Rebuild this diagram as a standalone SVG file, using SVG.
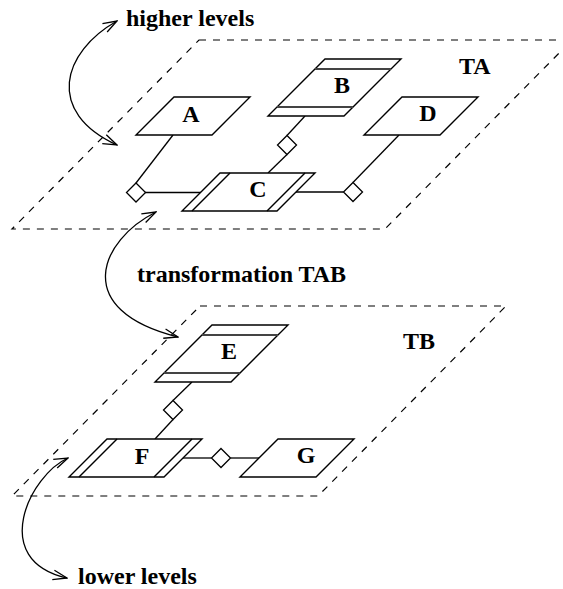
<svg xmlns="http://www.w3.org/2000/svg" width="563" height="589" viewBox="0 0 563 589">
<style>
.plane{fill:none;stroke:#000;stroke-width:1.2;stroke-dasharray:7 7}
.box{fill:#fff;stroke:#000;stroke-width:1.4;stroke-linejoin:miter}
.inner{fill:none;stroke:#000;stroke-width:1.4}
.stripe{fill:none;stroke:#444;stroke-width:2}
.conn{fill:none;stroke:#000;stroke-width:1.3}
.dia{fill:#fff;stroke:#000;stroke-width:1.3}
.arc{fill:none;stroke:#000;stroke-width:1.3;marker-start:url(#ah);marker-end:url(#ah)}
text{font-family:"Liberation Serif","Times New Roman",serif;font-weight:bold;font-size:24px;fill:#000}
.lbl{text-anchor:middle}
</style>
<defs>
<marker id="ah" viewBox="-15 -7 16 14" refX="0" refY="0" markerWidth="16" markerHeight="14" markerUnits="userSpaceOnUse" orient="auto-start-reverse">
<path d="M-14,-4.8 L0,0 L-14,4.8" fill="none" stroke="#000" stroke-width="1.3"/>
</marker>
</defs>
<rect width="563" height="589" fill="#fff"/>
<g id="planes">
<polygon id="planeTA" class="plane" points="199,40 572,40 385,229 12,229"/>
<polygon id="planeTB" class="plane" points="200,306 506,306 318,496 12,496"/>
<text x="459" y="74">TA</text>
<text x="403" y="349">TB</text>
</g>
<g id="connectors">
<polyline class="conn" points="173,135 136,183"/>
<line class="conn" x1="145" y1="192.5" x2="201" y2="192.5"/>
<polygon class="dia" points="136,183 145.5,192.5 136,202 126.5,192.5"/>
<line class="conn" x1="305" y1="116" x2="287" y2="135.5"/>
<line class="conn" x1="287" y1="154.5" x2="268" y2="173"/>
<polygon class="dia" points="287,135.5 296.5,145 287,154.5 277.5,145"/>
<line class="conn" x1="399" y1="135" x2="353" y2="182.5"/>
<line class="conn" x1="343.5" y1="192" x2="296" y2="192"/>
<polygon class="dia" points="353,182.5 362.5,192 353,201.5 343.5,192"/>
<line class="conn" x1="192" y1="382" x2="173" y2="400.5"/>
<line class="conn" x1="173" y1="419.5" x2="155" y2="439"/>
<polygon class="dia" points="173,400.5 182.5,410 173,419.5 163.5,410"/>
<line class="conn" x1="183" y1="458" x2="211.5" y2="458"/>
<line class="conn" x1="230.5" y1="458" x2="259" y2="458"/>
<polygon class="dia" points="221,448.5 230.5,458 221,467.5 211.5,458"/>
<path class="arc" d="M117,21 C62,52 45,112 117,145"/>
<path class="arc" d="M156,212 C100,240 70,310 178,337"/>
<path class="arc" d="M68,458 C30,475 -12,560 67,578"/>
</g>
<g id="A">
<polygon class="box" points="174,97 250,97 212,135 136,135"/>
<text class="lbl" x="191" y="122">A</text>
</g>
<g id="B">
<polygon class="box" points="325,59 401,59 344,116 268,116"/>
<line class="stripe" x1="315" y1="69" x2="391" y2="69"/>
<line class="stripe" x1="277" y1="107" x2="353" y2="107"/>
<text class="lbl" x="342" y="93">B</text>
</g>
<g id="C">
<polygon class="box" points="220,173 315,173 277,211 182,211"/>
<line class="inner" x1="230" y1="173" x2="192" y2="211"/>
<line class="inner" x1="305" y1="173" x2="267" y2="211"/>
<text class="lbl" x="258" y="197">C</text>
</g>
<g id="D">
<polygon class="box" points="402,97 478,97 440,135 364,135"/>
<text class="lbl" x="428" y="121">D</text>
</g>
<g id="E">
<polygon class="box" points="212,325 288,325 231,382 155,382"/>
<line class="stripe" x1="202" y1="335" x2="278" y2="335"/>
<line class="stripe" x1="164" y1="373" x2="240" y2="373"/>
<text class="lbl" x="229" y="359">E</text>
</g>
<g id="F">
<polygon class="box" points="107,439 202,439 164,477 69,477"/>
<line class="inner" x1="117" y1="439" x2="79" y2="477"/>
<line class="inner" x1="192" y1="439" x2="154" y2="477"/>
<text class="lbl" x="142" y="464">F</text>
</g>
<g id="G">
<polygon class="box" points="278,439 354,439 316,477 240,477"/>
<text class="lbl" x="306" y="463">G</text>
</g>
<g id="labels">
<text x="126" y="26">higher levels</text>
<text x="137" y="282">transformation TAB</text>
<text x="78" y="584">lower levels</text>
</g>
</svg>
